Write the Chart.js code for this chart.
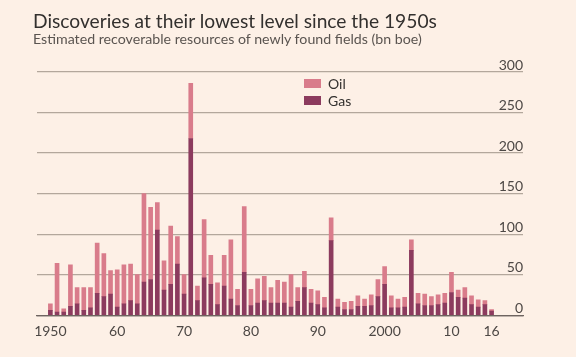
<!DOCTYPE html>
<html>
<head>
<meta charset="utf-8">
<script src="https://cdn.jsdelivr.net/npm/chart.js@4"></script>
<style>
  html, body { margin: 0; padding: 0; background: #fdf0e6; }
  #wrap { position: relative; width: 576px; height: 357px; overflow: hidden; background: #fdf0e6; }
  #c { position: absolute; left: 0; top: 0; }
  .t { position: absolute; white-space: nowrap; font-family: Lato, "Open Sans", sans-serif; }
  #title { left: 33px; top: 10px; font-size: 19.2px; line-height: 22px; color: #33302e; }
  #sub { left: 33px; top: 31px; font-size: 14.2px; line-height: 16px; color: #5a5450; }
  .sw { position: absolute; width: 17px; height: 9px; }
  .lg { position: absolute; font-family: Lato, "Open Sans", sans-serif; font-size: 14px; line-height: 16px; color: #33302e; }
</style>
</head>
<body>
<div id="wrap">
  <canvas id="c" width="576" height="357"></canvas>
  <div class="t" id="title">Discoveries at their lowest level since the 1950s</div>
  <div class="t" id="sub">Estimated recoverable resources of newly found fields (bn boe)</div>
  <div class="sw" id="swOil" style="left:304px; top:79px;"></div>
  <div class="lg" style="left:328px; top:76px;">Oil</div>
  <div class="sw" id="swGas" style="left:304px; top:96px;"></div>
  <div class="lg" style="left:328px; top:93px;">Gas</div>
</div>
<script>
// Years 1950..2016
const years = [1950,1951,1952,1953,1954,1955,1956,1957,1958,1959,
  1960,1961,1962,1963,1964,1965,1966,1967,1968,1969,
  1970,1971,1972,1973,1974,1975,1976,1977,1978,1979,
  1980,1981,1982,1983,1984,1985,1986,1987,1988,1989,
  1990,1991,1992,1993,1994,1995,1996,1997,1998,1999,
  2000,2001,2002,2003,2004,2005,2006,2007,2008,2009,
  2010,2011,2012,2013,2014,2015,2016];

// Gas (bn boe)
const gas = [6,4,4,11,14,6,9,27,23,26,
  10,14,18,14,41,44,105,31,38,63,
  26,218,18,46,38,13,36,20,12,53,
  12,15,18,15,15,15,10,17,34,15,
  13,9,92,10,7,7,11,11,12,23,
  38,9,9,10,80,14,12,12,13,15,
  28,22,21,13,10,13,5];

// Oil (bn boe)
const oil = [8,60,4,51,20,28,25,62,53,29,
  46,48,45,36,109,89,34,36,72,34,
  24,68,18,72,36,27,38,73,20,81,
  20,30,30,19,28,26,40,17,20,17,
  17,13,28,10,9,10,13,9,13,21,
  22,15,11,12,13,13,14,11,12,12,
  25,9,13,11,9,5,2];

const xTickYears = [1950,1960,1970,1980,1990,2000,2010,2016];
const xTickLabels = ['1950','60','70','80','90','2000','10','16'];

const oilColor = '#d97c8b';
const gasColor = '#8c3b5e';
const gridColor = '#b3a79c';
const axisColor = '#6e6460';
const tickColor = '#4d4845';

document.getElementById('swOil').style.background = oilColor;
document.getElementById('swGas').style.background = gasColor;

const toXY = arr => arr.map((v, i) => ({ x: years[i], y: v }));

new Chart(document.getElementById('c'), {
  type: 'bar',
  data: {
    datasets: [
      { label: 'Gas', data: toXY(gas), backgroundColor: gasColor, barThickness: 4, borderWidth: 0 },
      { label: 'Oil', data: toXY(oil), backgroundColor: oilColor, barThickness: 4, borderWidth: 0 }
    ]
  },
  options: {
    responsive: false,
    devicePixelRatio: 1,
    animation: false,
    layout: { padding: { left: 37, right: 53, top: 72, bottom: 9 } },
    plugins: { legend: { display: false }, tooltip: { enabled: false }, title: { display: false } },
    scales: {
      x: {
        type: 'linear',
        stacked: true,
        offset: false,
        min: 1948,
        max: 2020.7,
        grid: { display: false, drawTicks: false, offset: false },
        border: { display: true, color: axisColor, width: 1.2 },
        afterBuildTicks: s => { s.ticks = xTickYears.map(v => ({ value: v })); },
        ticks: {
          padding: 8,
          color: tickColor,
          font: { family: 'Lato, "Open Sans", sans-serif', size: 14 },
          maxRotation: 0,
          autoSkip: false,
          callback: (v) => { const i = xTickYears.indexOf(v); return i >= 0 ? xTickLabels[i] : ''; }
        }
      },
      y: {
        position: 'right',
        stacked: true,
        min: 0,
        max: 300,
        grid: {
          drawTicks: false,
          lineWidth: 1.2,
          color: ctx => (ctx.tick && ctx.tick.value === 0) ? axisColor : gridColor
        },
        border: { display: false },
        ticks: {
          stepSize: 50,
          mirror: true,
          padding: 0,
          labelOffset: -7,
          color: tickColor,
          font: { family: 'Lato, "Open Sans", sans-serif', size: 14 }
        }
      }
    }
  }
});
</script>
</body>
</html>
